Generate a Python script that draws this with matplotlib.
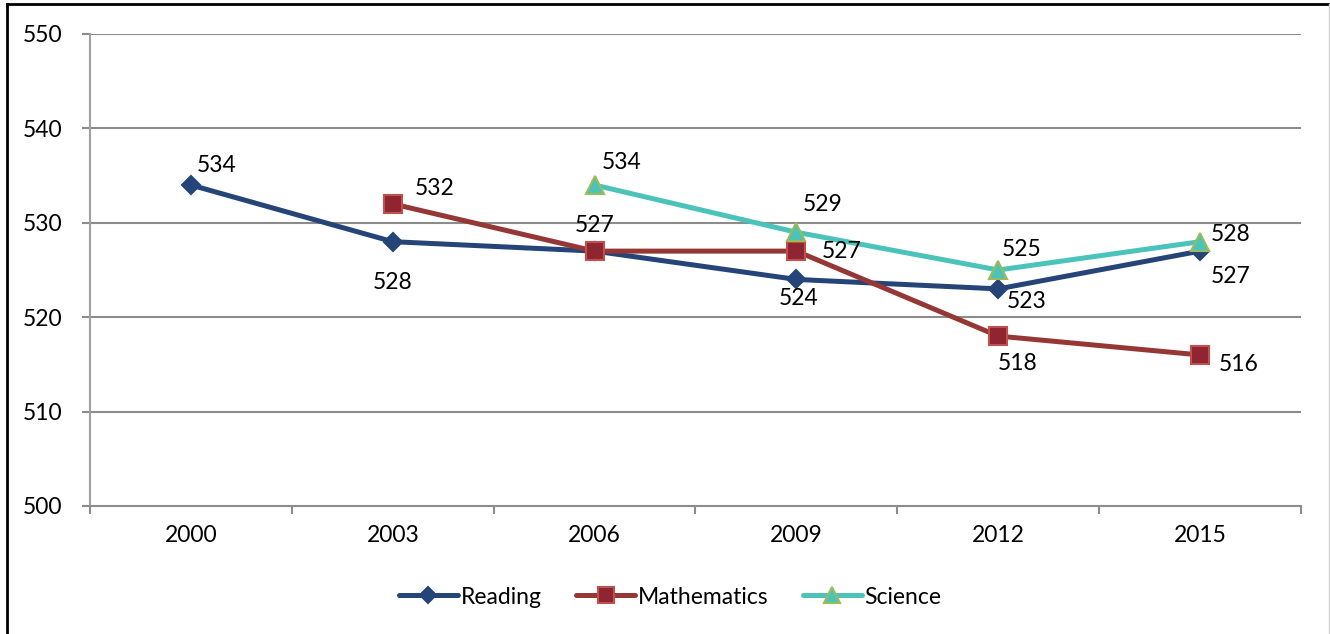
import matplotlib.pyplot as plt
from matplotlib.lines import Line2D

years = ['2000', '2003', '2006', '2009', '2012', '2015']
reading = [534, 528, 527, 524, 523, 527]
maths = [None, 532, 527, 527, 518, 516]
science = [None, None, 534, 529, 525, 528]

# label offsets in pixels (dx, dy), None = no label shown
reading_off = [(26, 20), (0, -41), None, (2, -19), (28, -13), (31, -25)]
maths_off = [None, (42, 15), (0, 26), (45, 0), (19, -27), (39, -10)]
science_off = [None, None, (27, 23), (26, 28), (23, 20), (31, 7)]

plt.rcParams['font.family'] = ['Lato', 'DejaVu Sans']

fig = plt.figure(figsize=(13.3, 6.34), dpi=100)
ax = fig.add_axes([90 / 1330, 1 - 506 / 634, 1211 / 1330, 472 / 634])

grid_col = '#8c8c8c'
for v in range(510, 551, 10):
    ax.axhline(v, color=grid_col, lw=1.5, zorder=0)

series = [
    ('Reading', reading, reading_off, '#254478', 'D', '#254478', '#254478', 9.5, 8),
    ('Mathematics', maths, maths_off, '#953735', 's', '#8e2531', '#c0504d', 12.5, 11),
    ('Science', science, science_off, '#4bc3ba', '^', '#4bc3ba', '#9bbb59', 13, 11),
]

handles = []
for name, vals, offs, col, mk, mfc, mec, ms, lms in series:
    xs = [i for i, v in enumerate(vals) if v is not None]
    ys = [v for v in vals if v is not None]
    ax.plot(xs, ys, color=col, lw=3.6, marker=mk, markersize=ms,
            markerfacecolor=mfc, markeredgecolor=mec, markeredgewidth=1.5,
            solid_capstyle='round', zorder=3)
    handles.append(Line2D([], [], color=col, lw=3.6, marker=mk, markersize=lms,
                          markerfacecolor=mfc, markeredgecolor=mec,
                          markeredgewidth=1.5, solid_capstyle='round'))
    for x, y, off in zip(xs, ys, [offs[i] for i in xs]):
        if off is None:
            continue
        ax.annotate(str(y), (x, y), xytext=(off[0] * 0.72, off[1] * 0.72),
                    textcoords='offset points', ha='center', va='center',
                    fontsize=16.5, color='black', zorder=4)

ax.set_xlim(-0.5, 5.5)
ax.set_ylim(500, 550)
ax.set_yticks(range(500, 551, 10))
ax.set_xticks(range(len(years)))
ax.set_xticklabels(years)
ax.set_xticks([i - 0.5 for i in range(len(years) + 1)], minor=True)

for s in ['top', 'right']:
    ax.spines[s].set_visible(False)
ax.spines['left'].set_color('#a0a0a0')
ax.spines['bottom'].set_color(grid_col)
ax.spines['left'].set_linewidth(1.5)
ax.spines['bottom'].set_linewidth(1.5)

ax.tick_params(axis='y', length=6, width=1.5, color=grid_col, labelsize=16.5, pad=14)
ax.tick_params(axis='x', which='major', length=0, labelsize=16.5, pad=14)
ax.tick_params(axis='x', which='minor', length=6, width=1.5, color=grid_col)

fig.legend(handles, [s[0] for s in series], loc='center', bbox_to_anchor=(670 / 1330, 1 - 597 / 634),
           ncol=3, frameon=False, fontsize=16.5, handlelength=2.6, handletextpad=0.1,
           columnspacing=1.5)

# outer chart border
fig.add_artist(Line2D([7 / 1330, 7 / 1330], [0, 1 - 4 / 634], color='black', lw=2, transform=fig.transFigure))
fig.add_artist(Line2D([7 / 1330, 1], [1 - 4 / 634, 1 - 4 / 634], color='black', lw=2, transform=fig.transFigure))
fig.add_artist(Line2D([1328.5 / 1330, 1328.5 / 1330], [0, 1 - 4 / 634], color='#d0d0d0', lw=1, transform=fig.transFigure))

plt.savefig('out.png')
plt.close()
